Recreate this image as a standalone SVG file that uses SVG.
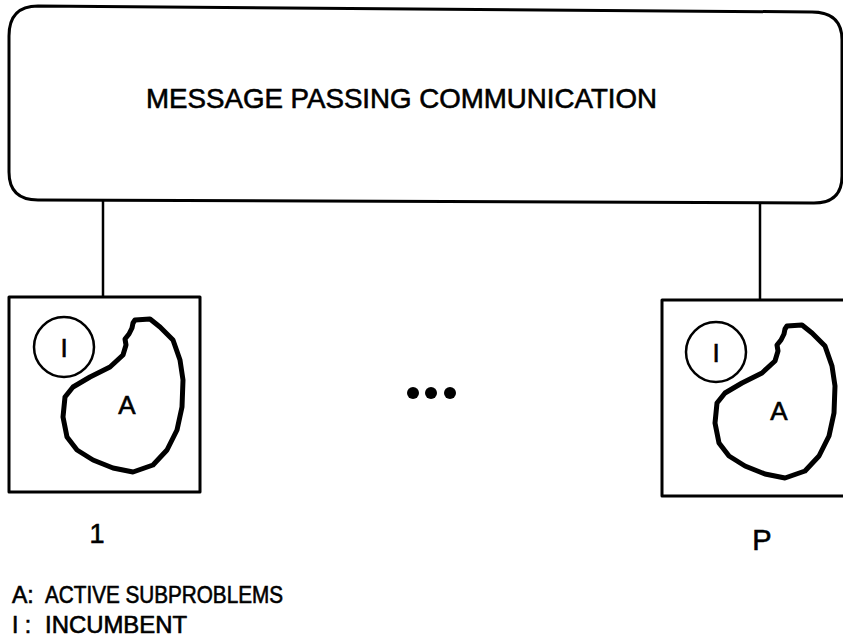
<svg xmlns="http://www.w3.org/2000/svg" width="843" height="640" viewBox="0 0 843 640">
<defs>
<style>
.ln{fill:none;stroke:#000;stroke-width:3;stroke-linejoin:round;stroke-linecap:round}
.thin{fill:none;stroke:#000;stroke-width:2.5}
.blob{fill:none;stroke:#000;stroke-width:5;stroke-linejoin:round}
.t{font-family:"Liberation Sans",Arial,sans-serif;fill:#000;stroke:#000;stroke-width:0.6}
</style>
<path id="blobA" class="blob" d="M135,320 L150,319 L160,327 L173,340 L180,360 L183,380 L182,407 L177,430 L167,450 L153,465 L133,472 L113,468 L93,460 L77,450 L67,437 L63,417 L65,397 L73,387 L90,377 L110,367 L123,355 L126,345 L125,339 L129,334 L132,328 L133,323 Z"/>
</defs>
<rect width="843" height="640" fill="#fff"/>
<g id="bus">
<path class="ln" d="M38,6 L812,12 Q842,12 842,40 L842,176 Q842,203 814,203 L38,200 Q9,200 9,172 L9,36 Q9,6 38,6 Z"/>
<text class="t" x="146" y="108" font-size="28" textLength="511" lengthAdjust="spacingAndGlyphs">MESSAGE PASSING COMMUNICATION</text>
</g>
<g id="connectors">
<line class="thin" x1="103" y1="200" x2="103" y2="297"/>
<line class="thin" x1="760" y1="203" x2="760" y2="300"/>
</g>
<g id="proc1">
<rect class="ln" x="9" y="297" width="191" height="195"/>
<circle class="thin" cx="64" cy="347" r="30"/>
<text class="t" x="64" y="357" font-size="26" text-anchor="middle">I</text>
<use href="#blobA"/>
<text class="t" x="127" y="414" font-size="26" text-anchor="middle">A</text>
<text class="t" x="97" y="543" font-size="27" text-anchor="middle">1</text>
</g>
<g id="dots">
<circle cx="413" cy="393" r="6"/>
<circle cx="431" cy="393" r="6"/>
<circle cx="450" cy="393" r="6"/>
</g>
<g id="procP">
<rect class="ln" x="662" y="300" width="190" height="196"/>
<circle class="thin" cx="716" cy="352" r="30"/>
<text class="t" x="716" y="362" font-size="26" text-anchor="middle">I</text>
<use href="#blobA" transform="translate(652,6)"/>
<text class="t" x="779" y="420" font-size="26" text-anchor="middle">A</text>
<text class="t" x="762" y="550" font-size="29" text-anchor="middle">P</text>
</g>
<g id="legend">
<text class="t" x="12" y="603" font-size="23">A:</text>
<text class="t" x="45" y="603" font-size="23" textLength="238" lengthAdjust="spacingAndGlyphs">ACTIVE SUBPROBLEMS</text>
<text class="t" x="12" y="633" font-size="23">I :</text>
<text class="t" x="45" y="633" font-size="23" textLength="142" lengthAdjust="spacingAndGlyphs">INCUMBENT</text>
</g>
</svg>
